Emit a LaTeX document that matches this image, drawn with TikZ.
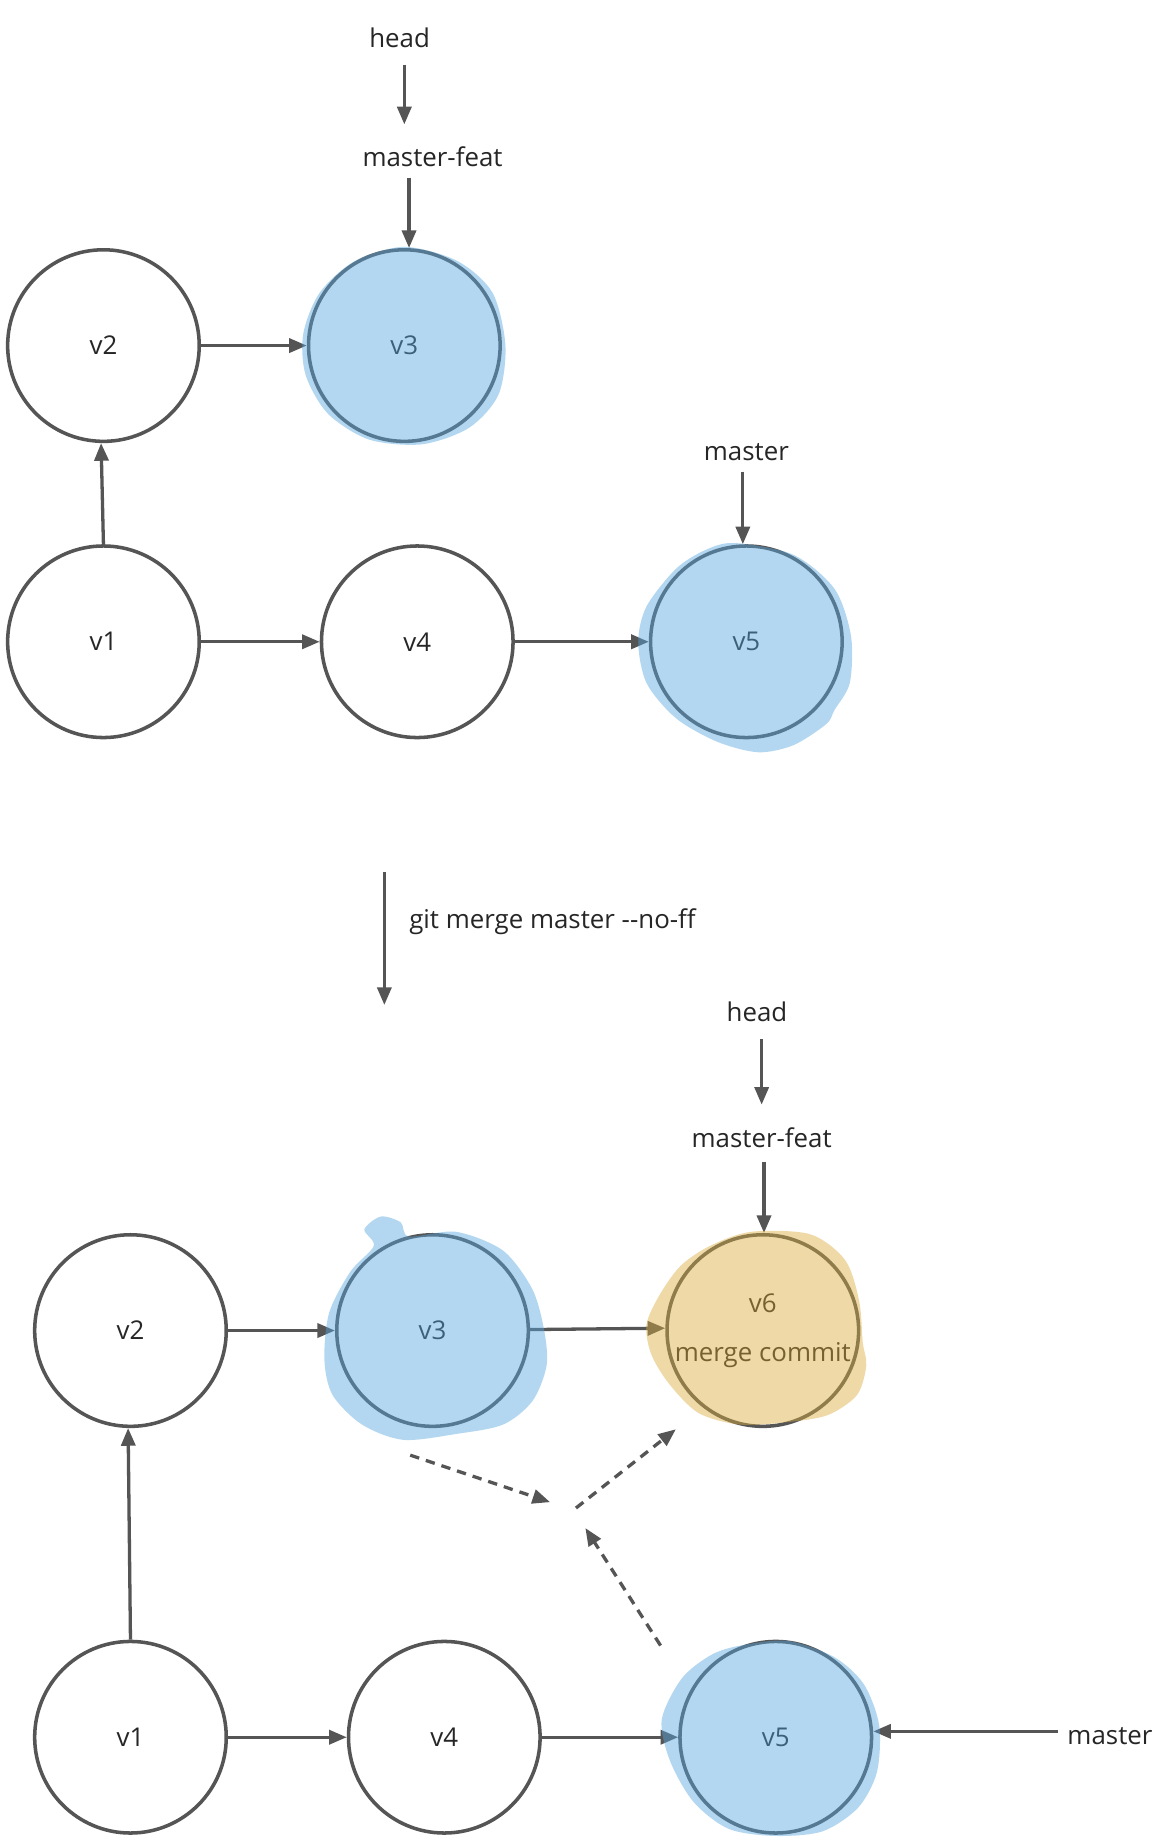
\documentclass[tikz,border=0pt]{standalone}
\usepackage{fontspec}
\setmainfont{Open Sans}
\usetikzlibrary{arrows.meta,calc}
\definecolor{ln}{RGB}{85,85,85}
\definecolor{tx}{RGB}{38,38,38}
\definecolor{bl}{RGB}{87,167,222}
\definecolor{orn}{RGB}{218,171,62}
\begin{document}
\begin{tikzpicture}[x=1pt,y=-1pt,
  commit/.style={circle,draw=ln,line width=3pt,minimum size=163pt,inner sep=0pt,text=tx,font=\fontsize{22}{26}\selectfont},
  lbl/.style={inner sep=0pt,text=tx,font=\fontsize{22}{26}\selectfont,text height=16pt,text depth=4pt},
  arr/.style={draw=ln,line width=2.8pt,-{Triangle[length=15pt,width=12pt]}},
  darr/.style={arr,dash pattern=on 8pt off 6pt},
  blueblob/.style={fill=bl,fill opacity=0.45},
  orblob/.style={fill=orn,fill opacity=0.45}]
\useasboundingbox[fill=white] (0,0) rectangle (994,1568);

% ---------- top part ----------
\node[lbl] (head1) at (340,34) {head};
\node[lbl] (mf1) at (368,136) {master-feat};
\node[lbl] (master1) at (635,386) {master};
\node[commit] (t2) at (88,294) {v2};
\node[commit] (t3) at (344,294) {v3};
\node[commit] (t1) at (88,546) {v1};
\node[commit] (t4) at (355,546) {v4};
\node[commit] (t5) at (635,546) {v5};

\draw[arr] ([xshift=4pt,yshift=-11pt]head1.south) -- ([xshift=-24pt,yshift=20pt]mf1.north);
\draw[arr] ([xshift=-20pt,yshift=-5pt]mf1.south) -- ([xshift=4pt]t3.north);
\draw[arr] ([xshift=-3pt,yshift=-5pt]master1.south) -- ([xshift=-3pt]t5.north);
\draw[arr] (t2) -- (t3);
\draw[arr] (t1.north) -- ([xshift=-2pt]t2.south);
\draw[arr] (t1) -- (t4);
\draw[arr] (t4) -- (t5);

\fill[blueblob,shift={(t3)}] plot[smooth cycle] coordinates {(0,-84) (45,-72) (75,-45) (86,0) (80,42) (55,70) (15,84) (-30,80) (-65,58) (-84,25) (-86,-10) (-72,-45) (-42,-72)};
\fill[blueblob,shift={(t5)}] plot[smooth cycle] coordinates {(-10,-84) (40,-74) (75,-45) (89,-5) (88,35) (75,58) (68,70) (40,88) (10,94) (-25,85) (-60,65) (-85,35) (-92,0) (-85,-30) (-60,-62) (-35,-78)};

% ---------- middle ----------
\coordinate (ms) at (327,742);
\coordinate (me) at (327,855);
\draw[arr] (ms) -- (me);
\node[lbl,anchor=west] (cmd) at (348,784) {git merge master -{}-no-ff};

% ---------- bottom part ----------
\node[lbl] (head2) at (644,863) {head};
\node[lbl] (mf2) at (648,970) {master-feat};
\node[lbl,anchor=west] (master2) at (908,1478) {master};
\node[commit] (b2) at (111,1132) {v2};
\node[commit] (b3) at (368,1132) {v3};
\node[commit,align=center,font=\fontsize{22}{42}\selectfont] (b6) at (649,1132) {v6\\merge commit};
\node[commit] (b1) at (111,1478) {v1};
\node[commit] (b4) at (378,1478) {v4};
\node[commit] (b5) at (660,1478) {v5};

\draw[arr] ([xshift=4pt,yshift=-11pt]head2.south) -- ([yshift=20pt]mf2.north);
\draw[arr] ([xshift=2pt,yshift=-8pt]mf2.south) -- ([xshift=1pt]b6.north);
\draw[arr] ([xshift=-8pt,yshift=5pt]master2.west) -- ([yshift=5pt]b5.east);
\draw[arr] (b2) -- (b3);
\draw[arr] (b3) -- ([yshift=2pt]b6.west);
\draw[arr] (b1.north) -- ([xshift=-2pt]b2.south);
\draw[arr] (b1) -- (b4);
\draw[arr] (b4) -- (b5);

\coordinate (d1s) at (349,1238);
\coordinate (d1e) at (468,1278);
\coordinate (d2s) at (490,1283);
\coordinate (d2e) at (575,1216);
\coordinate (d3s) at (562,1400);
\coordinate (d3e) at (498,1300);
\draw[darr] (d1s) -- (d1e);
\draw[darr] (d2s) -- (d2e);
\draw[darr] (d3s) -- (d3e);

\fill[blueblob,shift={(b3)}] plot[smooth cycle] coordinates {(-50,-72) (-58,-86) (-44,-97) (-27,-92) (-20,-80) (20,-84) (60,-68) (85,-35) (95,0) (97,30) (85,60) (60,80) (20,88) (-25,93) (-60,80) (-85,55) (-92,25) (-88,-15) (-70,-50)};
\fill[orblob,shift={(b6)}] plot[smooth cycle] coordinates {(-10,-84) (40,-82) (70,-60) (82,-25) (85,10) (88,30) (80,55) (55,72) (20,78) (-20,80) (-55,70) (-80,45) (-95,20) (-99,-5) (-88,-30) (-70,-55) (-45,-72)};
\fill[blueblob,shift={(b5)}] plot[smooth cycle] coordinates {(-30,-78) (10,-82) (50,-68) (75,-45) (88,-10) (86,30) (70,60) (40,80) (0,84) (-40,78) (-70,55) (-90,20) (-97,-15) (-80,-50) (-55,-70)};
\end{tikzpicture}
\end{document}
